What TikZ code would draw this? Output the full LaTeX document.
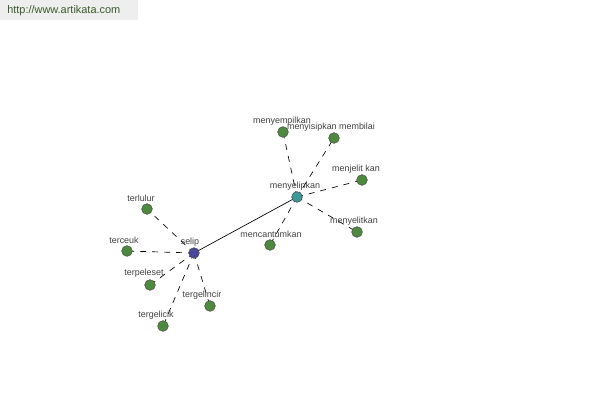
\documentclass[tikz,border=0pt]{standalone}
\usepackage{fontspec}
\setmainfont{Liberation Sans}
\begin{document}
\begin{tikzpicture}[x=0.75pt,y=-0.75pt,
  leaf/.style={circle,draw=black!70,fill=leafgreen,minimum size=8pt,inner sep=0pt,line width=0.4pt},
  hub/.style={circle,draw=black!70,minimum size=8pt,inner sep=0pt,line width=0.4pt},
  lbl/.style={font=\fontsize{6.7}{7}\selectfont,text=black!75,inner sep=0pt},
  dashline/.style={draw=black,line width=0.5pt,dash pattern=on 4.5pt off 4.5pt},
  solidline/.style={draw=black,line width=0.5pt}]
\definecolor{leafgreen}{HTML}{4E8A3E}
\definecolor{hubblue}{HTML}{46469A}
\definecolor{hubteal}{HTML}{3E9A9A}
\definecolor{bannergray}{HTML}{EEEEEE}
\definecolor{bannertext}{HTML}{3A5A2A}
\useasboundingbox (0,0) rectangle (600,400);
\fill[white] (0,0) rectangle (600,400);
\fill[bannergray] (0,0) rectangle (138,20);
\node[anchor=west,font=\fontsize{8.2}{9}\selectfont,text=bannertext,inner sep=0pt] (url) at (7,11) {http://www.artikata.com};
% node positions
\coordinate (selip) at (194,253);
\coordinate (menyelipkan) at (297,197);
\coordinate (menyempilkan) at (283,132);
\coordinate (menyisipkan) at (334,138);
\coordinate (menjelitkan) at (362,180);
\coordinate (menyelitkan) at (357,232);
\coordinate (mencantumkan) at (270,245);
\coordinate (terlulur) at (147,209);
\coordinate (terceuk) at (127,251);
\coordinate (terpeleset) at (150,285);
\coordinate (tergelincir) at (210,306);
\coordinate (tergelicik) at (163,326);
% edges
\draw[solidline] (selip) -- (menyelipkan);
\foreach \n in {menyempilkan,menyisipkan,menjelitkan,menyelitkan,mencantumkan}
  \draw[dashline] (menyelipkan) -- (\n);
\foreach \n in {terlulur,terceuk,terpeleset,tergelincir,tergelicik}
  \draw[dashline] (selip) -- (\n);
% nodes on top
\node[hub,fill=hubblue] (nselip) at (selip) {};
\node[hub,fill=hubteal] (nmenyelipkan) at (menyelipkan) {};
\foreach \n in {menyempilkan,menyisipkan,menjelitkan,menyelitkan,mencantumkan,terlulur,terceuk,terpeleset,tergelincir,tergelicik}
  \node[leaf] (n\n) at (\n) {};
% labels
\node[lbl] (l1) at (190,242) {selip};
\node[lbl] (l2) at (295,186) {menyelipkan};
\node[lbl] (l3) at (282,121) {menyempilkan};
\node[lbl] (l4) at (331,127) {menyisipkan membilai};
\node[lbl] (l5) at (356,169) {menjelit kan};
\node[lbl] (l6) at (354,221) {menyelitkan};
\node[lbl] (l7) at (271,234) {mencantumkan};
\node[lbl] (l8) at (141,198) {terlulur};
\node[lbl] (l9) at (124,240) {terceuk};
\node[lbl] (l10) at (144,273) {terpeleset};
\node[lbl] (l11) at (202,295) {tergelincir};
\node[lbl] (l12) at (156,315) {tergelicik};
\end{tikzpicture}
\end{document}
